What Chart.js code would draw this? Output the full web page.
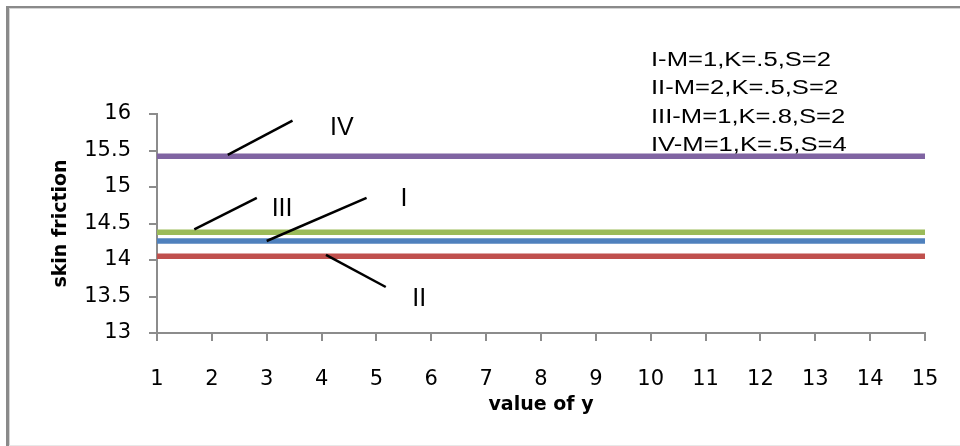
<!DOCTYPE html>
<html>
<head>
<meta charset="utf-8">
<script src="https://cdn.jsdelivr.net/npm/chart.js@4.4.1/dist/chart.umd.min.js"></script>
<style>
  html, body { margin: 0; padding: 0; background: #fff; }
  #wrap { width: 960px; height: 446px; position: relative; }
</style>
</head>
<body>
<div id="wrap"><canvas id="skinChart"></canvas></div>
<script>
// value of y (x axis)
var yValues = [1, 2, 3, 4, 5, 6, 7, 8, 9, 10, 11, 12, 13, 14, 15];

// skin friction for each case
var caseI   = [14.26, 14.26, 14.26, 14.26, 14.26, 14.26, 14.26, 14.26, 14.26, 14.26, 14.26, 14.26, 14.26, 14.26, 14.26];
var caseII  = [14.05, 14.05, 14.05, 14.05, 14.05, 14.05, 14.05, 14.05, 14.05, 14.05, 14.05, 14.05, 14.05, 14.05, 14.05];
var caseIII = [14.38, 14.38, 14.38, 14.38, 14.38, 14.38, 14.38, 14.38, 14.38, 14.38, 14.38, 14.38, 14.38, 14.38, 14.38];
var caseIV  = [15.42, 15.42, 15.42, 15.42, 15.42, 15.42, 15.42, 15.42, 15.42, 15.42, 15.42, 15.42, 15.42, 15.42, 15.42];

var xTicks = [1, 2, 3, 4, 5, 6, 7, 8, 9, 10, 11, 12, 13, 14, 15];
var yTicks = [13, 13.5, 14, 14.5, 15, 15.5, 16];

var caseNames = ['I', 'II', 'III', 'IV'];
var caseNotes = ['I-M=1,K=.5,S=2', 'II-M=2,K=.5,S=2', 'III-M=1,K=.8,S=2', 'IV-M=1,K=.5,S=4'];

// pointer lines and their roman labels, in data units
var pointers = [
  { from: [3.00, 14.26], to: [4.82, 14.85], label: [5.50, 14.84] },
  { from: [4.08, 14.07], to: [5.17, 13.63], label: [5.78, 13.47] },
  { from: [1.68, 14.42], to: [2.82, 14.85], label: [3.28, 14.70] },
  { from: [2.29, 15.44], to: [3.47, 15.91], label: [4.37, 15.80] }
];

var colors = ['#4F81BD', '#C0504D', '#9BBB59', '#8064A2'];
var allCases = [caseI, caseII, caseIII, caseIV];

function toPoints(vals) {
  return vals.map(function (v, i) { return { x: yValues[i], y: v }; });
}

var frameAndNotes = {
  id: 'frameAndNotes',
  afterDatasetsDraw: function (chart) {
    var ctx = chart.ctx;
    var xs = chart.scales.x, ys = chart.scales.y;
    ctx.save();
    // outer frame (left + top)
    ctx.fillStyle = '#8a8a8a';
    ctx.fillRect(6, 6, 3, 440);
    ctx.fillRect(6, 6, 954, 2);
    ctx.fillStyle = '#d4d4d4';
    ctx.fillRect(9, 8, 1, 438);
    ctx.fillRect(9, 8, 951, 1);
    ctx.fillStyle = '#e8e8e8';
    ctx.fillRect(9, 445, 951, 1);

    // pointer lines
    ctx.strokeStyle = '#000';
    ctx.lineWidth = 2.5;
    pointers.forEach(function (p) {
      ctx.beginPath();
      ctx.moveTo(xs.getPixelForValue(p.from[0]), ys.getPixelForValue(p.from[1]));
      ctx.lineTo(xs.getPixelForValue(p.to[0]), ys.getPixelForValue(p.to[1]));
      ctx.stroke();
    });

    // roman labels
    ctx.fillStyle = '#000';
    ctx.font = '25px "Liberation Sans", Arial, sans-serif';
    ctx.textAlign = 'center';
    ctx.textBaseline = 'middle';
    pointers.forEach(function (p, i) {
      ctx.fillText(caseNames[i], xs.getPixelForValue(p.label[0]), ys.getPixelForValue(p.label[1]));
    });

    // notes top right, the source text is stretched sideways
    ctx.font = '20px "Liberation Sans", Arial, sans-serif';
    ctx.textAlign = 'left';
    caseNotes.forEach(function (t, i) {
      ctx.save();
      ctx.translate(651, 60 + i * 28.6);
      ctx.scale(1.28, 1);
      ctx.fillText(t, 0, 0);
      ctx.restore();
    });
    ctx.restore();
  }
};

var chart = new Chart(document.getElementById('skinChart'), {
  type: 'line',
  data: {
    datasets: allCases.map(function (vals, i) {
      return {
        label: caseNames[i],
        data: toPoints(vals),
        borderColor: colors[i],
        backgroundColor: colors[i],
        borderWidth: 5.5,
        pointRadius: 0,
        fill: false
      };
    })
  },
  options: {
    responsive: true,
    maintainAspectRatio: false,
    animation: false,
    layout: { padding: { left: 0, right: 35, top: 114, bottom: 0 } },
    plugins: {
      legend: { display: false },
      tooltip: { enabled: false }
    },
    scales: {
      x: {
        type: 'linear',
        min: 1,
        max: 15,
        afterFit: function (s) { s.height = 113; s.paddingLeft = 0; s.paddingRight = 0; },
        afterBuildTicks: function (s) { s.ticks = xTicks.map(function (v) { return { value: v }; }); },
        grid: { display: true, drawOnChartArea: false, drawTicks: true, tickLength: 8, color: '#8c8c8c', lineWidth: 2 },
        border: { display: true, color: '#8c8c8c', width: 2 },
        ticks: {
          padding: 26,
          color: '#000',
          font: { family: '"DejaVu Sans", sans-serif', size: 21 },
          callback: function (v) { return String(v); }
        },
        title: {
          display: true,
          text: 'value of y',
          color: '#000',
          font: { family: '"DejaVu Sans", sans-serif', size: 19, weight: 'bold' },
          padding: { top: 0, bottom: 30 }
        }
      },
      y: {
        min: 13,
        max: 16,
        afterFit: function (s) { s.width = 157; },
        afterBuildTicks: function (s) { s.ticks = yTicks.map(function (v) { return { value: v }; }); },
        grid: { display: true, drawOnChartArea: false, drawTicks: true, tickLength: 8, color: '#8c8c8c', lineWidth: 2 },
        border: { display: true, color: '#8c8c8c', width: 2 },
        ticks: {
          padding: 18,
          color: '#000',
          font: { family: '"DejaVu Sans", sans-serif', size: 21 },
          callback: function (v) { return String(v); }
        },
        title: {
          display: true,
          text: 'skin friction',
          color: '#000',
          font: { family: '"DejaVu Sans", sans-serif', size: 19, weight: 'bold' },
          padding: { top: 50, bottom: 0 }
        }
      }
    }
  },
  plugins: [frameAndNotes]
});
</script>
</body>
</html>
